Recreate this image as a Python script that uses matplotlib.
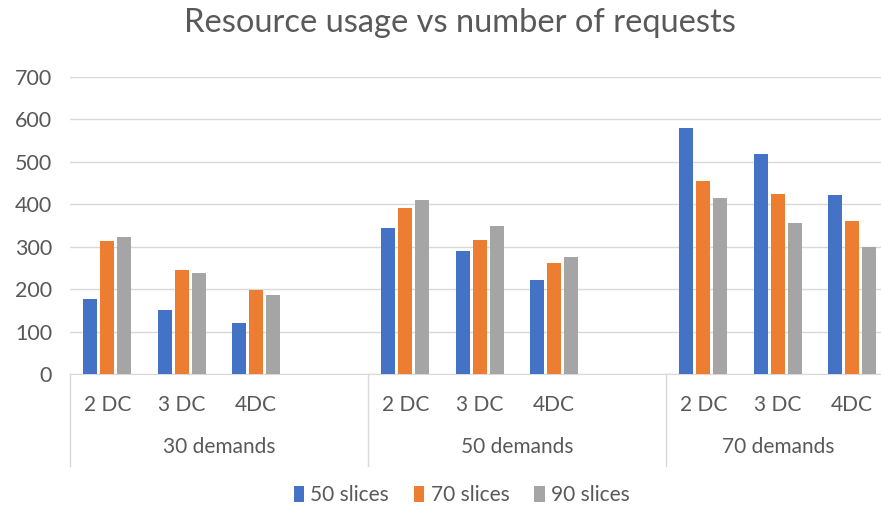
import numpy as np
import matplotlib.pyplot as plt
from matplotlib.lines import Line2D

plt.rcParams['font.family'] = ['Lato', 'DejaVu Sans']

# data
groups = ['30 demands', '50 demands', '70 demands']
dc_labels = ['2 DC', '3 DC', '4DC']
series = ['50 slices', '70 slices', '90 slices']
slices_50 = [176, 151, 121, 345, 291, 222, 580, 519, 421]
slices_70 = [313, 245, 198, 392, 316, 262, 454, 425, 360]
slices_90 = [324, 237, 187, 411, 349, 276, 414, 356, 299]
colors = ['#4472C4', '#ED7D31', '#A5A5A5']

txt = '#595959'
fig = plt.figure(figsize=(8.81, 5.08), dpi=100)
ax = fig.add_axes([70 / 881, 1 - 374 / 508, 1 - 70 / 881, (374 - 77) / 508])

# Excel puts an empty category after each group except the last
slot = []
for g in range(len(groups)):
    for i in range(len(dc_labels)):
        slot.append(g * 4 + i)
slot = np.array(slot)

w = 0.19
step = 0.228
for k, vals in enumerate([slices_50, slices_70, slices_90]):
    ax.bar(slot + (k - 1) * step, vals, w, color=colors[k], label=series[k], zorder=3)

ax.set_xlim(-0.5, (881 - 70) / 74.5 - 0.5)
ax.set_ylim(0, 700)
ax.set_yticks(range(0, 701, 100))
ax.grid(axis='y', color='#D9D9D9', linewidth=1, zorder=0)
for s in ['top', 'right', 'left']:
    ax.spines[s].set_visible(False)
ax.spines['bottom'].set_color('#D9D9D9')
ax.tick_params(axis='y', length=0, labelsize=15.5, labelcolor=txt, pad=13)
ax.tick_params(axis='x', length=0)
ax.set_xticks([])

# two-level category axis
tr = ax.get_xaxis_transform()
for x, lab in zip(slot, dc_labels * len(groups)):
    ax.text(x, -0.105, lab, transform=tr, ha='center', va='center', fontsize=15, color=txt)
for g, name in enumerate(groups):
    xc = g * 4 + (1.5 if g < len(groups) - 1 else 1)
    ax.text(xc, -0.245, name, transform=tr, ha='center', va='center', fontsize=15, color=txt)
for xb in [-0.5, 3.5, 7.5]:
    ax.add_line(Line2D([xb, xb], [0, -0.31], transform=tr, color='#D9D9D9', lw=1, clip_on=False))

fig.text(0.522, 1 - 23 / 508, 'Resource usage vs number of requests', ha='center', va='center',
         fontsize=23.5, color=txt)
fig.legend(loc='center', bbox_to_anchor=(0.524, 1 - 495 / 508), ncol=3, frameon=False,
           fontsize=15, labelcolor=txt, handlelength=0.5, handleheight=0.8,
           handletextpad=0.3, columnspacing=1.2)

fig.savefig('out.png', dpi=100)
